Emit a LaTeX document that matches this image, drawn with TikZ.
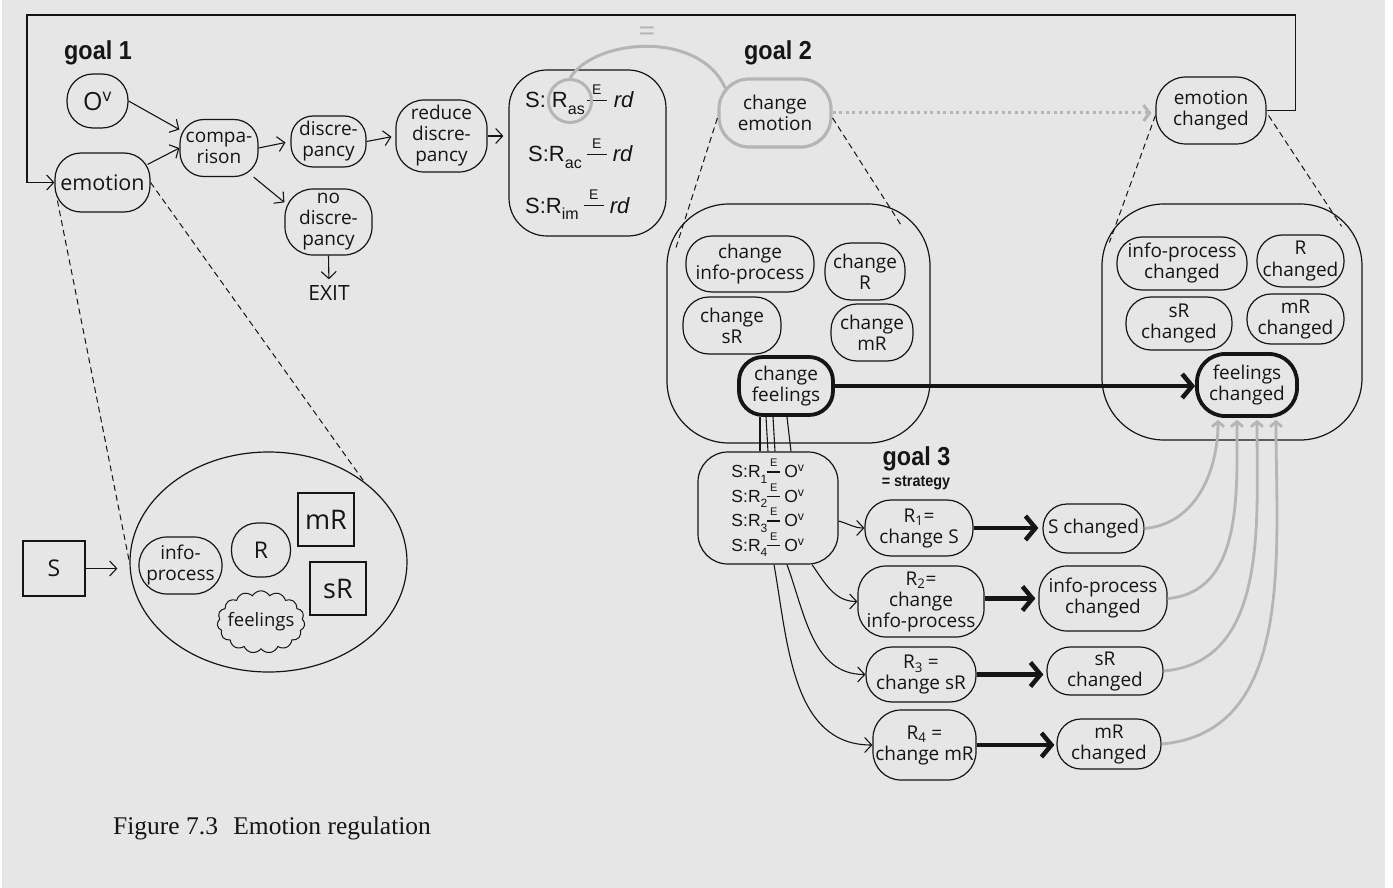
\documentclass[tikz,border=0pt]{standalone}
\usepackage{fontspec}
\setmainfont{Open Sans}
\newfontfamily\arialf{Liberation Sans}
\newfontfamily\goalf[FakeStretch=0.9]{Liberation Sans}
\newfontfamily\capf{Liberation Serif}
\usetikzlibrary{arrows.meta,shapes.symbols,shapes.geometric,calc}
\definecolor{bgc}{HTML}{E6E6E6}
\definecolor{grc}{HTML}{B5B5B5}
\definecolor{ink}{HTML}{151515}
\newcommand\nf{\fontsize{19}{21}\selectfont}
\newcommand\eln[2]{\rule[0.3em]{#1}{1.3pt}\llap{\makebox[#1]{\raisebox{0.62em}{\fontsize{#2}{#2}\selectfont E}}}}
\newcommand\sbs[2]{\raisebox{-0.3em}{\fontsize{#1}{#1}\selectfont #2}}
\begin{document}
\begin{tikzpicture}[x=1pt,y=-1pt,
  box/.style={draw=ink, line width=1.2pt, rounded corners=22pt, align=center, inner sep=0pt, font=\nf, text=ink},
  thickbox/.style={box, line width=3.8pt},
  sz/.style 2 args={minimum width=#1pt, minimum height=#2pt},
  ln/.style={draw=ink, line width=1.1pt},
  arr/.style={ln, -{Straight Barb[length=7pt,width=15pt]}},
  bigarr/.style={draw=ink, line width=4.5pt, -{Straight Barb[length=10pt,width=24pt]}},
  grarr/.style={draw=grc, line width=2.8pt, -{Straight Barb[length=5pt,width=12pt]}},
  dsh/.style={draw=ink, line width=1pt, dash pattern=on 6pt off 4pt},
  goal/.style={font=\goalf\bfseries\fontsize{26}{26}\selectfont, text=ink, inner sep=0pt},
  txt/.style={text=ink, inner sep=0pt},
  sqbox/.style={draw=ink, line width=1.2pt, inner sep=0pt, text=ink},
]
\useasboundingbox (0,0) rectangle (1393,888);
\fill[white] (0,0) rectangle (1393,888);
\fill[bgc] (2,0) rectangle (1385,888);

% ---------- goal 1 ----------
\node[goal] (g1) at (98,53) {goal 1};
\node[box, sz={61}{54}, rounded corners=26pt, font=\fontsize{25}{25}\selectfont] (ov) at (97.5,101) {O\textsuperscript{v}};
\node[box, sz={95}{59}, rounded corners=26pt, font=\fontsize{21.5}{22}\selectfont] (emo) at (102.5,182.5) {emotion};
\node[box, sz={78}{57}, rounded corners=24pt] (comp) at (219,148) {compa-\\rison};
\node[box, sz={75}{51}, rounded corners=22pt] (disc) at (328.5,141.5) {discre-\\pancy};
\node[box, sz={91}{72}, rounded corners=28pt] (red) at (441.5,136) {reduce\\discre-\\pancy};
\node[box, sz={87}{66}, rounded corners=28pt] (nodisc) at (328.5,222) {no\\discre-\\pancy};
\node[txt, font=\fontsize{21}{21}\selectfont] (exit) at (329,293) {EXIT};

\draw[arr] (ov.east) -- (comp.155);
\draw[arr] ($(emo.north east)+(-3,12)$) -- (comp.west);
\draw[arr, shorten >=5pt] (comp.east) -- (disc.west);
\draw[arr, shorten >=4pt] (disc.east) -- (red.west);
\draw[arr] (comp.-40) -- (nodisc.156);
\draw[arr, shorten >=6pt] (nodisc.south) -- (exit.north);

% ---------- S:R box ----------
\node[box, sz={157}{166}, rounded corners=38pt] (sbox) at (587.5,153) {};
\draw[arr, shorten >=5pt] (red.east) -- (sbox.west |- red.east);
\node[txt, anchor=base west, font=\arialf\fontsize{22}{22}\selectfont] (l1) at (525,108) {S:\hspace{6pt}R\sbs{16}{as}\hspace{2pt}\eln{20pt}{14}\hspace{7pt}\textit{rd}};
\node[txt, anchor=base west, font=\arialf\fontsize{22}{22}\selectfont] (l2) at (528,162) {S:R\sbs{16}{ac}\hspace{5pt}\eln{20pt}{14}\hspace{6pt}\textit{rd}};
\node[txt, anchor=base west, font=\arialf\fontsize{22}{22}\selectfont] (l3) at (525,213) {S:R\sbs{16}{im}\hspace{5pt}\eln{20pt}{14}\hspace{6pt}\textit{rd}};
\node[draw=grc, line width=3pt, circle, minimum size=43pt, inner sep=0pt] (ras) at (570,101) {};

% ---------- goal 2 ----------
\node[goal] (g2) at (778,53) {goal 2};
\node[box, sz={112}{68}, draw=grc, line width=3.2pt, rounded corners=30pt] (chem) at (775,113) {change\\emotion};
\draw[draw=grc, line width=3pt] (ras.north) .. controls (595,38) and (700,30) .. ($(chem.north west)+(8,11)$);
\node[txt, text=grc, font=\fontsize{30}{30}\selectfont] (eq) at (647,34) {=};
\node[box, sz={110}{67}, rounded corners=30pt] (emch) at (1211,110.5) {emotion\\changed};
\draw[draw=grc, line width=3pt, dash pattern=on 3pt off 3.5pt, -{Straight Barb[length=6pt,width=16pt]}, shorten >=4pt] (chem.east) -- (chem.east -| emch.west);
\draw[arr] (emch.east) -- ++(29,0) |- (27,15) |- (emo.west);

\node[box, sz={263}{239}, rounded corners=62pt] (g2box) at (798.5,323.5) {};
\node[box, sz={128}{56}, rounded corners=26pt] (cip) at (750,264) {change\\info-process};
\node[box, sz={80}{57}, rounded corners=26pt] (cr) at (865,271.5) {change\\R};
\node[box, sz={98}{57}, rounded corners=26pt] (csr) at (732,325.5) {change\\sR};
\node[box, sz={82}{57}, rounded corners=26pt] (cmr) at (872,332.5) {change\\mR};
\node[thickbox, sz={94}{58}, rounded corners=24pt] (chf) at (786,386) {change\\feelings};

\draw[dsh] ($(chem.west)+(0,5)$) -- ($(g2box.north west)+(9,46)$);
\draw[dsh] ($(chem.east)+(0,5)$) -- ($(g2box.north east)+(-30,21)$);

\node[box, sz={260}{236}, rounded corners=62pt] (ecbox) at (1232,322) {};
\node[box, sz={130}{53}, rounded corners=25pt] (ipc2) at (1182,263.5) {info-process\\changed};
\node[box, sz={87}{52}, rounded corners=25pt] (rc) at (1300.5,261) {R\\changed};
\node[box, sz={106}{53}, rounded corners=25pt] (src2) at (1179,323.5) {sR\\changed};
\node[box, sz={97}{50}, rounded corners=24pt] (mrc2) at (1295.5,319) {mR\\changed};
\node[thickbox, sz={100}{62}, rounded corners=28pt] (fc) at (1247,385) {feelings\\changed};

\draw[dsh] ($(emch.west)+(0,5)$) -- ($(ecbox.north west)+(8,39)$);
\draw[dsh] ($(emch.east)+(2,5)$) -- ($(ecbox.north east)+(-21,23)$);

\draw[bigarr] (chf.east) -- (chf.east -| fc.west);

% ---------- goal 3 ----------
\node[box, sz={140}{112}, rounded corners=30pt, font=\arialf\fontsize{17.5}{24.5}\selectfont] (strat) at (768,508)
  {S:R\sbs{12}{1}\eln{13pt}{11}\hspace{4pt}O\textsuperscript{v}\\
   S:R\sbs{12}{2}\eln{13pt}{11}\hspace{4pt}O\textsuperscript{v}\\
   S:R\sbs{12}{3}\eln{13pt}{11}\hspace{4pt}O\textsuperscript{v}\\
   S:R\sbs{12}{4}\eln{13pt}{11}\hspace{4pt}O\textsuperscript{v}};
\draw[ln] ($(chf.south)+(-26,0)$) -- ($(strat.north)+(-8,0)$);
\draw[ln] ($(chf.south)+(-20,0)$) -- ($(strat.north)+(0,0)$);
\draw[ln] ($(chf.south)+(-13,0)$) -- ($(strat.north)+(7,0)$);
\draw[ln] ($(chf.south)+(1,0)$) -- ($(strat.north)+(23,0)$);

\node[goal] (g3) at (916.5,459) {goal 3};
\node[goal, font=\goalf\bfseries\fontsize{16}{16}\selectfont] (strg) at (916,483) {= strategy};

\node[box, sz={108}{56}, rounded corners=26pt] (r1) at (919,528) {R\textsubscript{1}=\\change S};
\node[box, sz={126}{71}, rounded corners=28pt] (r2) at (921,601.5) {R\textsubscript{2}=\\change\\info-process};
\node[box, sz={110}{55}, rounded corners=26pt] (r3) at (921,674.5) {R\textsubscript{3} =\\change sR};
\node[box, sz={103}{70}, rounded corners=28pt] (r4) at (924.5,745) {R\textsubscript{4} =\\change mR};

\draw[arr] ($(strat.east)+(0,13)$) to[out=-15,in=180] (r1.west);
\draw[arr] ($(strat.south)+(44,0)$) to[out=-55,in=180] (r2.west);
\draw[arr] ($(strat.south)+(19,0)$) to[out=-70,in=180] (r3.west);
\draw[arr] ($(strat.south)+(6,0)$) to[out=-80,in=180] (r4.west);

\node[box, sz={101}{49}, rounded corners=24pt] (sc) at (1093.5,528.5) {S changed};
\node[box, sz={128}{65}, rounded corners=28pt] (ipc) at (1103,598.5) {info-process\\changed};
\node[box, sz={116}{48}, rounded corners=23pt] (src) at (1105,671) {sR\\changed};
\node[box, sz={104}{50}, rounded corners=24pt] (mrc) at (1109,744) {mR\\changed};

\draw[bigarr, shorten >=4pt] (r1.east) -- (r1.east -| sc.west);
\draw[bigarr, shorten >=3pt] (r2.east |- ipc.west) -- (ipc.west);
\draw[bigarr, shorten >=3pt] (r3.east) -- (r3.east -| src.west);
\draw[bigarr, shorten >=2pt] (r4.east) -- (r4.east -| mrc.west);

\draw[grarr] (sc.east) to[out=5,in=-90] ($(fc.south)+(-29,2)$);
\draw[grarr] (ipc.east) to[out=5,in=-90] ($(fc.south)+(-10,2)$);
\draw[grarr] (src.east) to[out=5,in=-90] ($(fc.south)+(10,2)$);
\draw[grarr] (mrc.east) to[out=5,in=-90] ($(fc.south)+(29,2)$);

% ---------- bottom left ----------
\node[draw=ink, line width=1.2pt, ellipse, sz={277}{220}, inner sep=0pt] (ell) at (268.5,562) {};
\draw[dsh] ($(emo.south west)+(3,-12)$) -- (ell.west);
\draw[dsh] (emo.east) -- (ell.40);
\node[sqbox, sz={62}{55}, font=\fontsize{23}{23}\selectfont] (sq) at (54,568.5) {S};
\draw[arr, shorten >=12pt] (sq.east) -- (sq.east -| ell.west);
\node[box, sz={83}{57}, rounded corners=28pt] (ip) at (180.5,565.5) {info-\\process};
\node[box, sz={59}{54}, rounded corners=26pt, font=\fontsize{23}{23}\selectfont] (rr) at (261,550) {R};
\node[sqbox, sz={56}{53}, font=\fontsize{27}{27}\selectfont] (mr) at (326,519.5) {mR};
\node[sqbox, sz={56}{53}, font=\fontsize{27}{27}\selectfont] (sr) at (338,588.5) {sR};
\node[draw=ink, line width=1pt, cloud, cloud puffs=15, cloud puff arc=120, aspect=1.55, sz={87}{55}, inner sep=-4pt, font=\fontsize{18.5}{18.5}\selectfont, text=ink] (fl) at (261,622) {feelings};

% ---------- caption ----------
\node[txt, anchor=base west, font=\capf\fontsize{25.5}{26}\selectfont] (cap) at (113,834) {Figure 7.3\hspace{0.6em}Emotion regulation};
\end{tikzpicture}
\end{document}
